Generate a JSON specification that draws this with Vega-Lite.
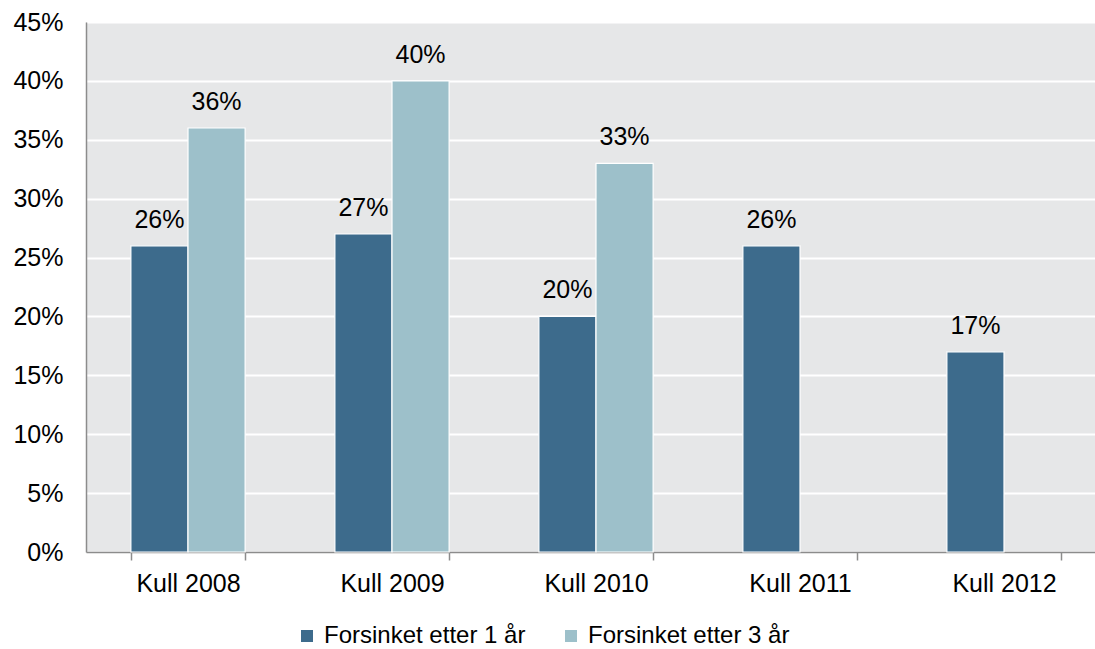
{
  "$schema": "https://vega.github.io/schema/vega-lite/v6.json",
  "autosize": "none",
  "width": 1009,
  "height": 530,
  "padding": {"left": 86, "top": 22, "right": 0, "bottom": 97},
  "background": "white",
  "config": {
    "font": "Liberation Sans",
    "view": {"fill": "#e6e7e8", "stroke": null},
    "axis": {"labelFont": "Liberation Sans", "labelColor": "#000000", "labelFontSize": 25, "titleFontSize": 25}
  },
  "data": {
    "values": [
      {"kull": "Kull 2008", "serie": "Forsinket etter 1 år", "andel": 0.26},
      {"kull": "Kull 2008", "serie": "Forsinket etter 3 år", "andel": 0.36},
      {"kull": "Kull 2009", "serie": "Forsinket etter 1 år", "andel": 0.27},
      {"kull": "Kull 2009", "serie": "Forsinket etter 3 år", "andel": 0.40},
      {"kull": "Kull 2010", "serie": "Forsinket etter 1 år", "andel": 0.20},
      {"kull": "Kull 2010", "serie": "Forsinket etter 3 år", "andel": 0.33},
      {"kull": "Kull 2011", "serie": "Forsinket etter 1 år", "andel": 0.26},
      {"kull": "Kull 2012", "serie": "Forsinket etter 1 år", "andel": 0.17}
    ]
  },
  "encoding": {
    "x": {
      "field": "kull", "type": "nominal", "title": null,
      "scale": {"range": [0, 1020], "paddingInner": 0.44, "paddingOuter": 0.22},
      "axis": {
        "labelAngle": 0, "tickBand": "extent", "domainColor": "#8c8c8c", "domainWidth": 1.5,
        "tickColor": "#8c8c8c", "tickWidth": 1.5, "tickSize": 8, "labelPadding": 11, "grid": false
      }
    },
    "xOffset": {"field": "serie", "type": "nominal", "scale": {"paddingInner": 0, "paddingOuter": 0}},
    "y": {
      "field": "andel", "type": "quantitative", "title": null,
      "scale": {"domain": [0, 0.45], "nice": false},
      "axis": {
        "format": ".0%", "values": [0, 0.05, 0.1, 0.15, 0.2, 0.25, 0.3, 0.35, 0.4, 0.45],
        "gridColor": "#ffffff", "gridWidth": 2, "ticks": false, "labelPadding": 23,
        "domainColor": "#8c8c8c", "domainWidth": 1.5
      }
    }
  },
  "layer": [
    {
      "mark": {"type": "bar", "stroke": "#ffffff", "strokeWidth": 1.2},
      "encoding": {
        "color": {
          "field": "serie", "type": "nominal", "title": null,
          "scale": {"domain": ["Forsinket etter 1 år", "Forsinket etter 3 år"], "range": ["#3d6b8c", "#9dc0ca"]},
          "legend": {
            "orient": "none", "legendX": 209, "legendY": 602, "direction": "horizontal",
            "symbolType": "square", "symbolSize": 144, "symbolStrokeWidth": 0,
            "labelFontSize": 24, "labelFont": "Liberation Sans", "labelColor": "#000000",
            "labelOffset": 5, "columnPadding": 33, "labelLimit": 0
          }
        }
      }
    },
    {
      "mark": {"type": "text", "fontSize": 25, "dy": -18, "baseline": "alphabetic", "color": "#000000"},
      "encoding": {"text": {"field": "andel", "format": ".0%"}}
    }
  ]
}
